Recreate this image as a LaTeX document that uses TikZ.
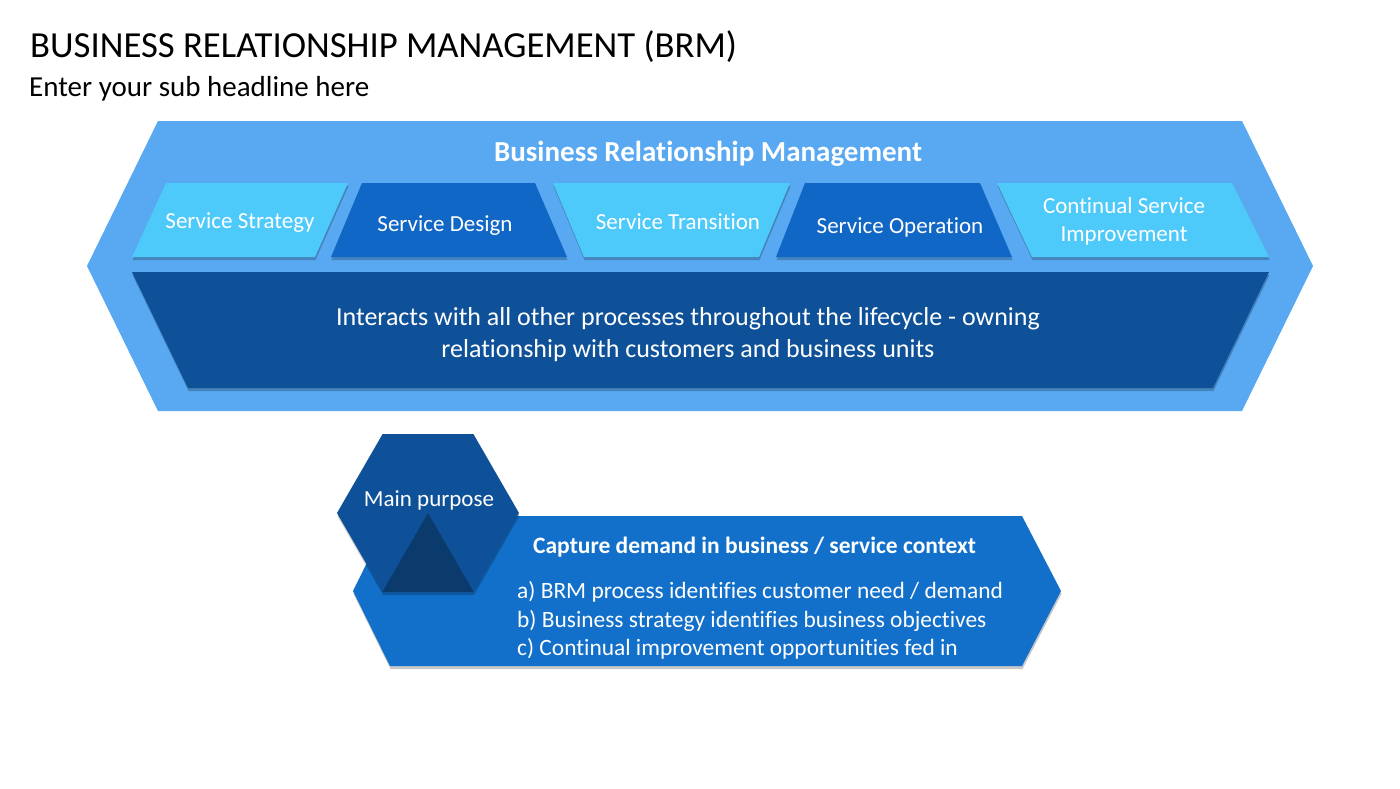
\documentclass[tikz,border=0pt]{standalone}
\usepackage{fontspec}
\setmainfont{Carlito}[Ligatures=NoCommon]
\usetikzlibrary{shadows}
\definecolor{hexlight}{HTML}{58A9F1}
\definecolor{boxcyan}{HTML}{4DC9FA}
\definecolor{boxblue}{HTML}{1167C5}
\definecolor{banddark}{HTML}{0E5198}
\definecolor{arrowblue}{HTML}{1270CA}
\definecolor{tridark}{HTML}{0B3B6C}

\begin{document}
\begin{tikzpicture}[
  x=1pt, y=-1pt,
  shade/.style={drop shadow={shadow xshift=0.5pt, shadow yshift=-3pt, opacity=0.22, fill=black}},
  lbl/.style={text=white, inner sep=0pt, anchor=base, font=\fontsize{23}{28}\selectfont, align=center},
  info/.style={text=white, inner sep=0pt, anchor=base west, font=\fontsize{23.4}{28}\selectfont}
]
\useasboundingbox[fill=white] (0,0) rectangle (1400,788);

\node[anchor=base west, inner sep=0pt, font=\fontsize{36.7}{44}\selectfont] (title) at (30,57) {BUSINESS RELATIONSHIP MANAGEMENT (BRM)};
\node[anchor=base west, inner sep=0pt, font=\fontsize{29}{34}\selectfont] (sub) at (29,96) {Enter your sub headline here};

% outer hexagon
\fill[hexlight] (158,121) -- (1242,121) -- (1313,266) -- (1242,411) -- (158,411) -- (87,266) -- cycle;
\node[lbl, font=\bfseries\fontsize{29}{34}\selectfont] (brm) at (708,161) {Business Relationship Management};

\fill[boxcyan, shade] (132,257) -- (315,257) -- (348,183) -- (166,183) -- cycle;
\fill[boxblue, shade] (331,257) -- (567,257) -- (535,183) -- (362,183) -- cycle;
\fill[boxcyan, shade] (584,257) -- (759,257) -- (790,183) -- (553,183) -- cycle;
\fill[boxblue, shade] (776,257) -- (1012,257) -- (980,183) -- (805,183) -- cycle;
\fill[boxcyan, shade] (1032,257) -- (1269,257) -- (1232,183) -- (997,183) -- cycle;

\node[lbl] (strategy) at (240,228) {Service Strategy};
\node[lbl] (design) at (445,231) {Service Design};
\node[lbl] (transition) at (678,229) {Service Transition};
\node[lbl] (operation) at (900,233) {Service Operation};
\node[lbl, anchor=center] (csi) at (1124,221) {Continual Service\\Improvement};

\fill[banddark, shade] (132,272) -- (1269,272) -- (1213,388) -- (188,388) -- cycle;
\node[lbl, anchor=center, font=\fontsize{26}{32}\selectfont] (interacts) at (688,335) {Interacts with all other processes throughout the lifecycle - owning\\relationship with customers and business units};

% purpose
\fill[arrowblue, shade] (390,516) -- (1022,516) -- (1061,591) -- (1022,666) -- (390,666) -- (353,591) -- cycle;
\fill[banddark, shade] (519,513) -- (473.5,434.2) -- (382.5,434.2) -- (337,513) -- (382.5,591.8) -- (473.5,591.8) -- cycle;
\fill[tridark] (428,513) -- (382.5,591.8) -- (473.5,591.8) -- cycle;
\node[lbl] (purpose) at (429,506) {Main purpose};

\node[info, font=\bfseries\fontsize{23.5}{28}\selectfont] (capture) at (533,553) {Capture demand in business / service context};
\node[info] (itema) at (517,598) {a) BRM process identifies customer need / demand};
\node[info] (itemb) at (517,627) {b) Business strategy identifies business objectives};
\node[info] (itemc) at (517,655) {c) Continual improvement opportunities fed in};
\end{tikzpicture}
\end{document}
